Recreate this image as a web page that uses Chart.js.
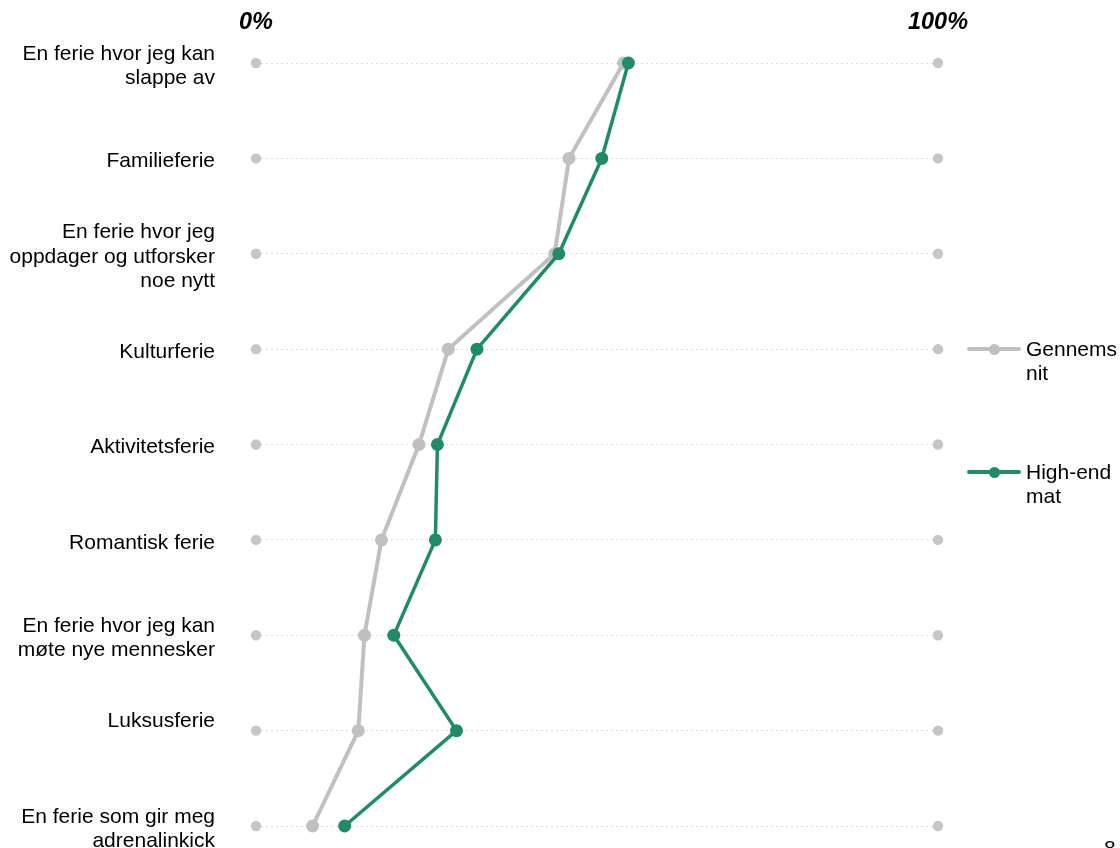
<!DOCTYPE html>
<html>
<head>
<meta charset="utf-8">
<script src="https://cdn.jsdelivr.net/npm/chart.js@4/dist/chart.umd.min.js"></script>
<style>
  html, body { margin: 0; padding: 0; background: #fff; }
  #wrap { position: relative; width: 1120px; height: 848px; overflow: hidden; }
  #c { position: absolute; left: 0; top: 0; }
  .leg { position: absolute; left: 967px; font: 21px 'Liberation Sans', Arial, sans-serif; color: #000; }
  .leg .line { position: absolute; left: 0; width: 54px; height: 4px; border-radius: 2px; }
  .leg .dot { position: absolute; left: 22px; width: 11px; height: 11px; border-radius: 50%; }
  .leg .txt { position: absolute; left: 59px; width: 94px; line-height: 24px; word-break: break-all; }
  #page { position: absolute; left: 1104px; top: 836px; font: 21px 'Liberation Sans', Arial, sans-serif; color: #000; }
</style>
</head>
<body>
<div id="wrap">
  <canvas id="c" width="1120" height="848"></canvas>
  <div id="legend"></div>
  <div id="page">8</div>
</div>
<script>
const categories = [
  ["En ferie hvor jeg kan", "slappe av"],
  "Familieferie",
  ["En ferie hvor jeg", "oppdager og utforsker", "noe nytt"],
  "Kulturferie",
  "Aktivitetsferie",
  "Romantisk ferie",
  ["En ferie hvor jeg kan", "møte nye mennesker"],
  ["Luksusferie", ""],
  ["En ferie som gir meg", "adrenalinkick"]
];
const seriesNames = ["Gennemsnit", "High-end mat"];
const avgValues = [53.9, 45.9, 43.8, 28.2, 23.9, 18.4, 15.9, 15.0, 8.3];
const highEndValues = [54.6, 50.7, 44.4, 32.4, 26.6, 26.3, 20.2, 29.4, 13.0];
const xTicks = [0, 100];
const xTickLabels = ["0%", "100%"];

const GREY = '#c0c0c0';
const GREEN = '#1f8c66';
const ENDGREY = '#c6c6c6';

Chart.defaults.font.family = "'Liberation Sans', Arial, sans-serif";

const ctx = document.getElementById('c');
const chart = new Chart(ctx, {
  type: 'line',
  data: {
    labels: categories,
    datasets: [
      {
        label: seriesNames[0], data: avgValues, order: 2,
        borderColor: GREY, backgroundColor: GREY, borderWidth: 4,
        pointRadius: 6.5, pointBackgroundColor: GREY, pointBorderWidth: 0,
        clip: false, tension: 0
      },
      {
        label: seriesNames[1], data: highEndValues, order: 1,
        borderColor: GREEN, backgroundColor: GREEN, borderWidth: 3.5,
        pointRadius: 6.5, pointBackgroundColor: GREEN, pointBorderWidth: 0,
        clip: false, tension: 0
      },
      {
        label: 'min', data: categories.map(() => xTicks[0]), order: 3,
        showLine: false, pointRadius: 5.2, pointBackgroundColor: ENDGREY,
        pointBorderWidth: 0, clip: false
      },
      {
        label: 'max', data: categories.map(() => xTicks[1]), order: 3,
        showLine: false, pointRadius: 5.2, pointBackgroundColor: ENDGREY,
        pointBorderWidth: 0, clip: false
      }
    ]
  },
  options: {
    responsive: false,
    animation: false,
    indexAxis: 'y',
    layout: { padding: { left: 0, right: 182, top: 0, bottom: 22 } },
    plugins: { legend: { display: false }, tooltip: { enabled: false } },
    scales: {
      x: {
        type: 'linear', position: 'top', min: xTicks[0], max: xTicks[1],
        afterBuildTicks: s => { s.ticks = xTicks.map(v => ({ value: v })); },
        afterFit: s => { s.height = 63; },
        ticks: {
          padding: 18, color: '#000',
          font: { size: 23.5, weight: 'bold', style: 'italic' },
          callback: v => xTickLabels[xTicks.indexOf(v)]
        },
        grid: { display: false },
        border: { display: false }
      },
      y: {
        type: 'category', offset: false,
        afterFit: s => { s.width = 256; s.paddingTop = 0; s.paddingBottom = 0; },
        ticks: { padding: 41, labelOffset: 3, color: '#000', font: { size: 21, lineHeight: 1.17 }, autoSkip: false },
        grid: { color: '#dcdcdc', lineWidth: 1, drawTicks: false },
        border: { display: false, dash: [2, 3] }
      }
    }
  }
});

// HTML legend built from datasets
const legendTops = [349, 472];
const leg = document.getElementById('legend');
chart.data.datasets.slice(0, 2).forEach((ds, i) => {
  const d = document.createElement('div');
  d.className = 'leg';
  d.style.top = legendTops[i] + 'px';
  d.innerHTML = '<div class="line" style="top:-2px;background:' + ds.borderColor + '"></div>' +
    '<div class="dot" style="top:-5.5px;background:' + ds.borderColor + '"></div>' +
    '<div class="txt" style="top:-12px">' + ds.label + '</div>';
  leg.appendChild(d);
});
</script>
</body>
</html>
